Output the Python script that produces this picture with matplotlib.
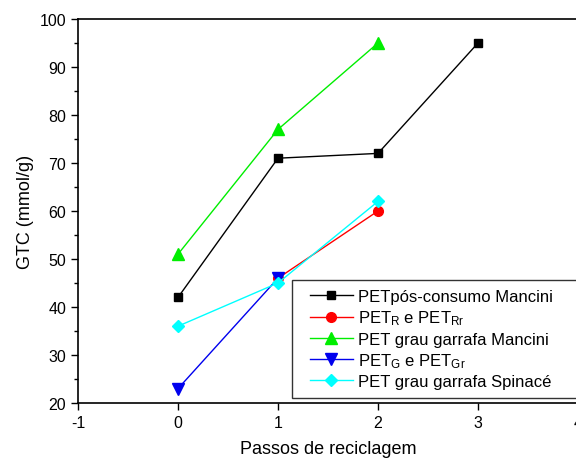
import matplotlib
matplotlib.use("Agg")
import matplotlib.pyplot as plt
from matplotlib.lines import Line2D
from matplotlib.legend_handler import HandlerLine2D
from matplotlib.ticker import MultipleLocator

plt.rcParams['font.family'] = ['Liberation Sans', 'DejaVu Sans']
plt.rcParams['mathtext.default'] = 'regular'
plt.rcParams['axes.unicode_minus'] = False

# data
x_mancini = [0, 1, 2, 3]
gtc_mancini = [42, 71, 72, 95]
x_r = [1, 2]
gtc_r = [46, 60]
x_garrafa = [0, 1, 2]
gtc_garrafa = [51, 77, 95]
x_g = [0, 1]
gtc_g = [23, 46]
x_spinace = [0, 1, 2]
gtc_spinace = [36, 45, 62]

labels = ['PETpós-consumo Mancini',
          'PET$_R$ e PET$_{Rr}$',
          'PET grau garrafa Mancini',
          'PET$_G$ e PET$_{Gr}$',
          'PET grau garrafa Spinacé']


def draw_graph():
    fig = plt.figure(figsize=(5.76, 4.6), dpi=100)
    ax = fig.add_axes([78 / 576, 1 - 404 / 460, 500 / 576, 384 / 460])

    ax.plot(x_mancini, gtc_mancini, 'ks-', lw=1, ms=6, label=labels[0])
    ax.plot(x_r, gtc_r, 'o-', color='red', lw=1, ms=7, label=labels[1])
    ax.plot(x_garrafa, gtc_garrafa, '^-', color='#00ee00', lw=1, ms=8, label=labels[2])
    ax.plot(x_g, gtc_g, 'v-', color='#0000ee', lw=1, ms=8, label=labels[3])
    ax.plot(x_spinace, gtc_spinace, 'D-', color='cyan', lw=1, ms=6, label=labels[4])

    ax.set_xlim(-1, 4)
    ax.set_ylim(20, 100)
    ax.xaxis.set_major_locator(MultipleLocator(1))
    ax.yaxis.set_major_locator(MultipleLocator(10))
    ax.yaxis.set_minor_locator(MultipleLocator(5))
    ax.tick_params(which='both', direction='out', labelsize=11.5, width=1)
    ax.tick_params(which='major', length=5)
    ax.tick_params(which='minor', length=3)
    for s in ax.spines.values():
        s.set_linewidth(1.2)

    ax.set_xlabel('Passos de reciclagem', fontsize=13, labelpad=7)
    ax.set_ylabel('GTC (mmol/g)', fontsize=13, labelpad=4)

    # legend box runs past the right edge, like in the original
    # xpad pushes the legend lines a bit to the right, away from the frame
    leg = ax.legend(loc='upper left', bbox_to_anchor=(0.428, 0.013, 0.6, 0.308),
                    mode='expand', borderaxespad=0, fontsize=12,
                    handlelength=3.1, fancybox=False, framealpha=1,
                    edgecolor='#333333', labelspacing=0.27, handletextpad=0.3,
                    borderpad=0.55,
                    handler_map={Line2D: HandlerLine2D(xpad=0.5)})
    leg.get_frame().set_linewidth(1)

    fig.savefig('out.png', dpi=100)


if __name__ == '__main__':
    draw_graph()
